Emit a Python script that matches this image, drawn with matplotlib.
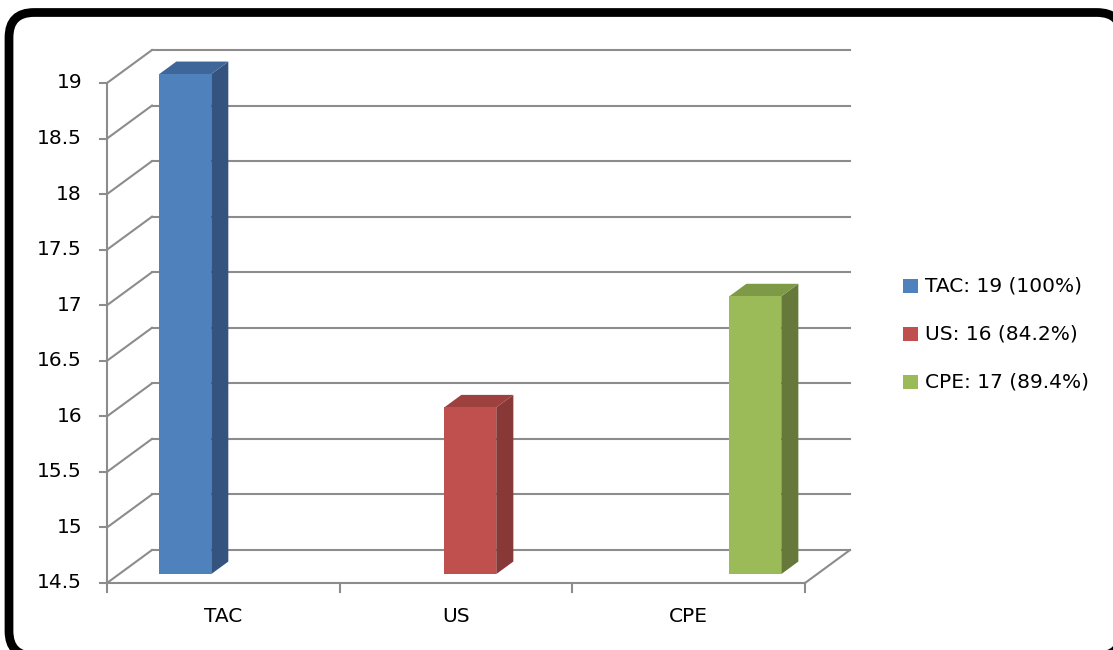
import matplotlib.pyplot as plt
from matplotlib.patches import Polygon, Rectangle, FancyBboxPatch
from matplotlib.transforms import IdentityTransform

# data
categories = ["TAC", "US", "CPE"]
values = [19, 16, 17]
legend_labels = ["TAC: 19 (100%)", "US: 16 (84.2%)", "CPE: 17 (89.4%)"]
yticks = [14.5, 15, 15.5, 16, 16.5, 17, 17.5, 18, 18.5, 19]

front_colors = ["#4F81BD", "#C0504D", "#9BBB59"]
top_colors = ["#3E6699", "#9E403D", "#7E9A47"]
side_colors = ["#34547F", "#883836", "#66793A"]
grid_col = "#8C8C8C"

plt.rcParams['font.family'] = ['DejaVu Sans']
FS = 14.5

W, H = 1113, 650
fig = plt.figure(figsize=(W / 100, H / 100), dpi=100)

# rounded frame (runs off the right and bottom edges); filled so agg doesn't clip the curves
fig.add_artist(FancyBboxPatch((9, -6), 1113, H - 12.5 + 6, transform=IdentityTransform(),
                              boxstyle="round,pad=0,rounding_size=25",
                              fc="white", ec="black", lw=6.3, zorder=-1))

# front plane of the 3d box, in pixels (image coords)
fx0, fx1, fy0, fy1 = 107, 805, 583, 83
ax = fig.add_axes([fx0 / W, (H - fy0) / H, (fx1 - fx0) / W, (fy0 - fy1) / H])
ax.set_xlim(0, 3)
ax.set_ylim(14.5, 19)
ax.axis("off")

sx = (fx1 - fx0) / 3.0      # px per x unit
sy = (fy0 - fy1) / 4.5      # px per y unit
DX, DY = 45, 33             # full depth in px


def P(x, y, d=0.0):
    return (x + d * DX / sx, y + d * DY / sy)


glw = 1.5
ymin, ymax = 14.5, 19
# gridlines: back wall + left wall
for t in yticks:
    ax.plot(*zip(P(0, t, 1), P(3, t, 1)), color=grid_col, lw=glw, clip_on=False, zorder=1)
    ax.plot(*zip(P(0, t, 0), P(0, t, 1)), color=grid_col, lw=glw, clip_on=False, zorder=1)
    ax.plot(*zip(P(-7 / sx, t), P(0, t)), color=grid_col, lw=glw, clip_on=False, zorder=1)
    ax.text(-25 / sx, t, f"{t:g}", ha="right", va="center", fontsize=FS, clip_on=False)

# floor edges
ax.plot(*zip(P(3, ymin, 0), P(3, ymin, 1)), color=grid_col, lw=glw, clip_on=False, zorder=1)
ax.plot(*zip(P(0, ymin), P(3, ymin)), color=grid_col, lw=glw, clip_on=False, zorder=1)
ax.plot(*zip(P(0, ymin), P(0, ymax)), color=grid_col, lw=glw, clip_on=False, zorder=1)
for i in range(4):
    ax.plot([i, i], [ymin, ymin - 9 / sy], color=grid_col, lw=glw, clip_on=False, zorder=1)
for i, c in enumerate(categories):
    ax.text(i + 0.5, ymin - 34 / sy, c, ha="center", va="center", fontsize=FS, clip_on=False)

# 3d bars
d0, d1 = 0.27, 0.65
bw = 0.2235
base, step = 0.284, 1.225
for i, v in enumerate(values):
    xl = base + i * step - bw / 2
    xr = xl + bw
    front = [P(xl, ymin, d0), P(xr, ymin, d0), P(xr, v, d0), P(xl, v, d0)]
    side = [P(xr, ymin, d0), P(xr, ymin, d1), P(xr, v, d1), P(xr, v, d0)]
    top = [P(xl, v, d0), P(xr, v, d0), P(xr, v, d1), P(xl, v, d1)]
    ax.add_patch(Polygon(side, closed=True, fc=side_colors[i], ec="none", clip_on=False, zorder=3))
    ax.add_patch(Polygon(top, closed=True, fc=top_colors[i], ec="none", clip_on=False, zorder=3))
    ax.add_patch(Polygon(front, closed=True, fc=front_colors[i], ec="none", clip_on=False, zorder=4))

# legend
leg_y = [286, 334, 382]
for i, lab in enumerate(legend_labels):
    fig.add_artist(Rectangle((903, H - leg_y[i] - 7), 15, 14, transform=IdentityTransform(),
                             fc=front_colors[i], ec="none"))
    fig.text(925 / W, (H - leg_y[i]) / H, lab, ha="left", va="center", fontsize=FS)

fig.savefig("out.png", dpi=100)
